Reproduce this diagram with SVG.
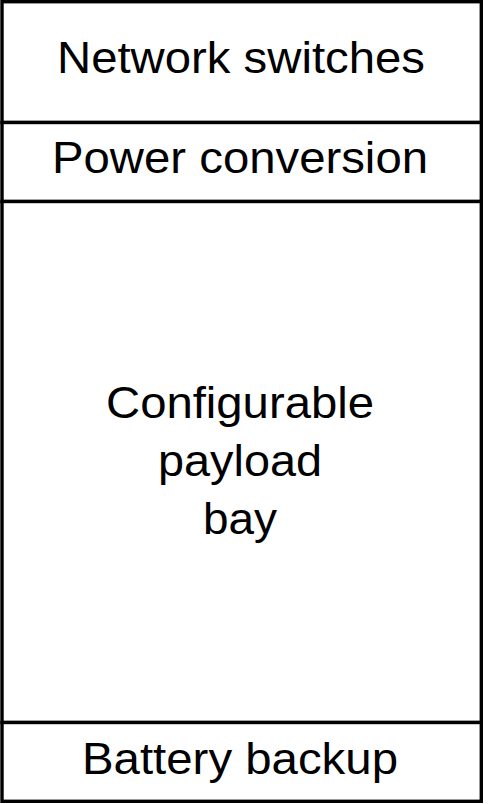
<svg xmlns="http://www.w3.org/2000/svg" width="488" height="804" viewBox="0 0 488 804">
<style>
.box{fill:#fff;stroke:#000;stroke-width:3.4}
.t{font-family:"Liberation Sans",Arial,sans-serif;font-size:43.5px;fill:#000;text-anchor:middle}
</style>
<rect width="488" height="804" fill="#fff"/>
<g id="network-switches">
<rect class="box" x="2" y="1.7" width="479.3" height="120.8"/>
<text class="t" x="241" y="73" textLength="368" lengthAdjust="spacingAndGlyphs">Network switches</text>
</g>
<g id="power-conversion">
<rect class="box" x="2" y="122.5" width="479.3" height="79"/>
<text class="t" x="240" y="173" textLength="376" lengthAdjust="spacingAndGlyphs">Power conversion</text>
</g>
<g id="payload-bay">
<rect class="box" x="2" y="201.5" width="479.3" height="521"/>
<text class="t" x="240" y="418" textLength="268" lengthAdjust="spacingAndGlyphs">Configurable</text>
<text class="t" x="240" y="476" textLength="164" lengthAdjust="spacingAndGlyphs">payload</text>
<text class="t" x="240" y="534" textLength="74" lengthAdjust="spacingAndGlyphs">bay</text>
</g>
<g id="battery-backup">
<rect class="box" x="2" y="722.5" width="479.3" height="78.8"/>
<text class="t" x="240" y="774" textLength="316" lengthAdjust="spacingAndGlyphs">Battery backup</text>
</g>
<g id="connectors"></g>
</svg>
